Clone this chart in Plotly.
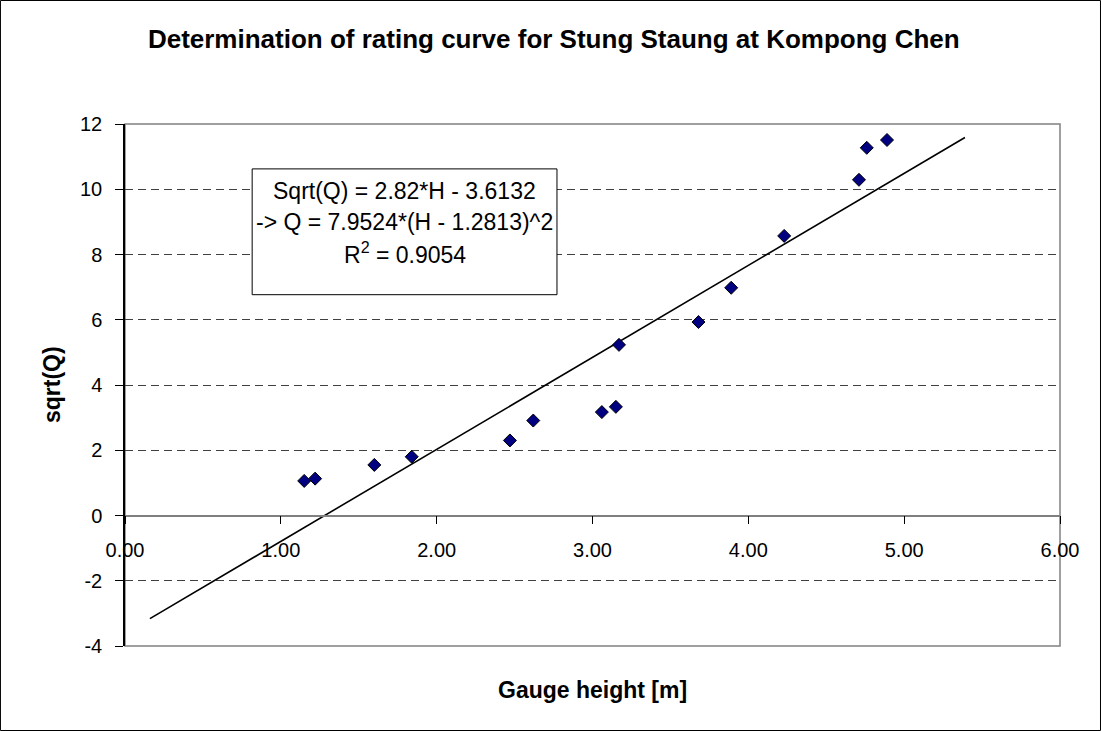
import plotly.graph_objects as go

# Gauge height H [m] and square root of discharge for each measurement
gauge_height = [1.15, 1.22, 1.60, 1.84, 2.47, 2.62, 3.06, 3.15, 3.17, 3.68, 3.89, 4.23, 4.71, 4.76, 4.89]
sqrt_q = [1.06, 1.13, 1.55, 1.80, 2.30, 2.91, 3.17, 3.33, 5.23, 5.93, 6.98, 8.57, 10.29, 11.27, 11.51]

# Linear fit sqrt(Q) = a*H + b, drawn over an extended H range
slope = 2.82
intercept = -3.6132
fit_h = [0.16, 5.39]

x_ticks = [0, 1, 2, 3, 4, 5, 6]
x_ticktext = ["0.00", "1.00", "2.00", "3.00", "4.00", "5.00", "6.00"]
y_ticks = [-4, -2, 0, 2, 4, 6, 8, 10, 12]
y_ticktext = ["-4", "-2", "0", "2", "4", "6", "8", "10", "12"]

FONT = "Liberation Sans, Arial, sans-serif"

fig = go.Figure()

fig.add_trace(go.Scatter(
    x=fit_h,
    y=[slope * h + intercept for h in fit_h],
    mode="lines",
    line=dict(color="black", width=1.6),
    hoverinfo="skip",
))

fig.add_trace(go.Scatter(
    x=gauge_height,
    y=sqrt_q,
    mode="markers",
    marker=dict(symbol="diamond", size=10, color="#000080",
                line=dict(color="black", width=1)),
))

# plot area frame (top, right, bottom in grey)
fig.add_shape(type="rect", xref="paper", yref="paper", x0=0, x1=1, y0=0, y1=1,
              line=dict(color="#808080", width=1.5), layer="between")
# outer chart border
fig.add_shape(type="rect", xref="paper", yref="paper",
              x0=-0.1332, x1=1.0433, y0=-0.1619, y1=1.2366,
              line=dict(color="black", width=1), layer="above")

# equation box
fig.add_shape(type="rect", xref="paper", yref="paper",
              x0=0.136, x1=0.462, y0=0.673, y1=0.914,
              line=dict(color="black", width=1), fillcolor="white", layer="above")

eq_lines = [
    "Sqrt(Q) = 2.82*H - 3.6132",
    "-> Q = 7.9524*(H - 1.2813)^2",
    "R<sup>2</sup> = 0.9054",
]
eq_y = [0.871, 0.812, 0.752]
for txt, yy in zip(eq_lines, eq_y):
    fig.add_annotation(text=txt, xref="paper", yref="paper", x=0.299, y=yy,
                       xanchor="center", yanchor="middle", showarrow=False,
                       font=dict(family=FONT, size=23, color="black"))

fig.update_layout(
    width=1101, height=731,
    margin=dict(l=125, r=41, t=124, b=85),
    paper_bgcolor="white", plot_bgcolor="white",
    showlegend=False,
    font=dict(family=FONT, size=20, color="black"),
    title=dict(text="<b>Determination of rating curve for Stung Staung at Kompong Chen</b>",
               x=0.503, xanchor="center", y=0.947, yanchor="middle",
               font=dict(family=FONT, size=26, color="black")),
    xaxis=dict(
        range=[0, 6], tickvals=x_ticks, ticktext=x_ticktext,
        showgrid=False, zeroline=False,
        showline=True, linecolor="#808080", linewidth=1.5,
        ticks="outside", ticklen=8, tickcolor="black", tickwidth=1,
        anchor="free", position=0.25,
        ticklabelstandoff=9,
        tickfont=dict(family=FONT, size=20),
    ),
    yaxis=dict(
        range=[-4, 12], tickvals=y_ticks, ticktext=y_ticktext,
        showgrid=True, gridcolor="#404040", gridwidth=1, griddash="8px,5px",
        zeroline=False,
        showline=True, linecolor="black", linewidth=1.5,
        ticks="outside", ticklen=8, tickcolor="black", tickwidth=1,
        ticklabelstandoff=9,
        tickfont=dict(family=FONT, size=20),
    ),
)

fig.add_annotation(text="<b>Gauge height [m]</b>", xref="paper", yref="paper",
                   x=0.5, y=-0.085, xanchor="center", yanchor="middle", showarrow=False,
                   font=dict(family=FONT, size=23, color="black"))
fig.add_annotation(text="<b>sqrt(Q)</b>", xref="paper", yref="paper",
                   x=-0.078, y=0.5, xanchor="center", yanchor="middle", showarrow=False,
                   textangle=-90, font=dict(family=FONT, size=23, color="black"))

fig.write_html("out.html")
